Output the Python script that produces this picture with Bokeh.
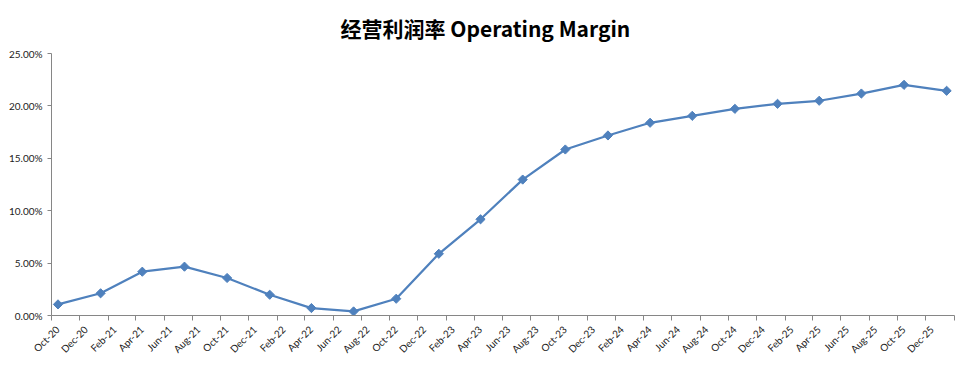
import numpy as np
import pandas as pd
from bokeh.plotting import figure
from bokeh.models import FixedTicker, PrintfTickFormatter, Range1d, DatetimeTickFormatter, ColumnDataSource
from bokeh.embed import file_html
from bokeh.resources import INLINE

# ---- data ----
dates = ["2020-10-15", "2021-01-15", "2021-04-15", "2021-07-15", "2021-10-15",
         "2022-01-15", "2022-04-15", "2022-07-15", "2022-10-15", "2023-01-15",
         "2023-04-15", "2023-07-15", "2023-10-15", "2024-01-15", "2024-04-15",
         "2024-07-15", "2024-10-15", "2025-01-15", "2025-04-15", "2025-07-15",
         "2025-10-15", "2026-01-15"]
margin_pct = [1.06, 2.12, 4.18, 4.66, 3.58, 1.98, 0.71, 0.39, 1.60, 5.89,
              9.18, 12.97, 15.84, 17.18, 18.39, 19.05, 19.72, 20.20, 20.49, 21.18,
              22.01, 21.44]
tick_labels = ["Oct-20", "Dec-20", "Feb-21", "Apr-21", "Jun-21", "Aug-21", "Oct-21", "Dec-21",
               "Feb-22", "Apr-22", "Jun-22", "Aug-22", "Oct-22", "Dec-22", "Feb-23", "Apr-23",
               "Jun-23", "Aug-23", "Oct-23", "Dec-23", "Feb-24", "Apr-24", "Jun-24", "Aug-24",
               "Oct-24", "Dec-24", "Feb-25", "Apr-25", "Jun-25", "Aug-25", "Oct-25", "Dec-25"]
y_ticks = [0, 5, 10, 15, 20, 25]
title_text = "经营利润率 Operating Margin"

def to_ms(ts):
    return pd.Timestamp(ts).value / 1e6

DAY_MS = 86400000.0
x_ms = [to_ms(d) for d in dates]
tick_ms = [to_ms(pd.to_datetime(l, format="%b-%y")) for l in tick_labels]
axis_end = to_ms("2026-02-01")
# labels sit a little to the right of their tick marks (as in the original)
label_ms = [t + 13 * DAY_MS for t in tick_ms]

src = ColumnDataSource(data=dict(x=x_ms, y=margin_pct))

p = figure(width=958, height=363, output_backend="svg", toolbar_location=None,
           x_axis_type="datetime",
           x_range=Range1d(start=tick_ms[0], end=axis_end),
           y_range=Range1d(start=0, end=25),
           min_border_left=51, min_border_right=4, min_border_top=53, min_border_bottom=48)

p.title.text = title_text
p.title.align = "left"
p.title.offset = 289
p.title.standoff = 20
p.title.vertical_align = "middle"
p.title.text_font = "Noto Sans CJK SC"
p.title.text_font_size = "21px"
p.title.text_font_style = "bold"
p.title.text_color = "#000000"

p.outline_line_color = None
p.xgrid.grid_line_color = None
p.ygrid.grid_line_color = None
p.background_fill_color = "white"
p.border_fill_color = "white"

blue = "#4F81BD"
p.line("x", "y", source=src, line_color=blue, line_width=2.25)
p.scatter("x", "y", source=src, marker="square", angle=np.pi / 4, size=6.5,
          fill_color=blue, line_color=blue)

# x axis: labels on (invisible) major ticks, tick marks drawn as minor ticks
xa = p.xaxis[0]
xa.ticker = FixedTicker(ticks=label_ms, minor_ticks=tick_ms + [axis_end])
xa.formatter = DatetimeTickFormatter(months="%b-%y", days="%b-%y", years="%b-%y")
xa.major_label_overrides = {t: l for t, l in zip(label_ms, tick_labels)}
xa.major_label_orientation = np.pi / 4
xa.major_tick_line_color = None
xa.major_tick_in = 0
xa.major_tick_out = 5
xa.minor_tick_in = 0
xa.minor_tick_out = 5
xa.axis_line_color = "#868686"
xa.minor_tick_line_color = "#868686"
xa.major_label_text_font = "Lato"
xa.major_label_text_font_size = "10px"
xa.major_label_text_color = "#222222"
xa.major_label_standoff = 7

# y axis
ya = p.yaxis[0]
ya.ticker = FixedTicker(ticks=y_ticks)
ya.formatter = PrintfTickFormatter(format="%.2f%%")
ya.major_tick_in = 0
ya.major_tick_out = 4
ya.minor_tick_line_color = None
ya.axis_line_color = "#868686"
ya.major_tick_line_color = "#868686"
ya.major_label_text_font = "Lato"
ya.major_label_text_font_size = "10px"
ya.major_label_text_color = "#222222"
ya.major_label_standoff = 5

open("out.html", "w").write(file_html(p, INLINE))
